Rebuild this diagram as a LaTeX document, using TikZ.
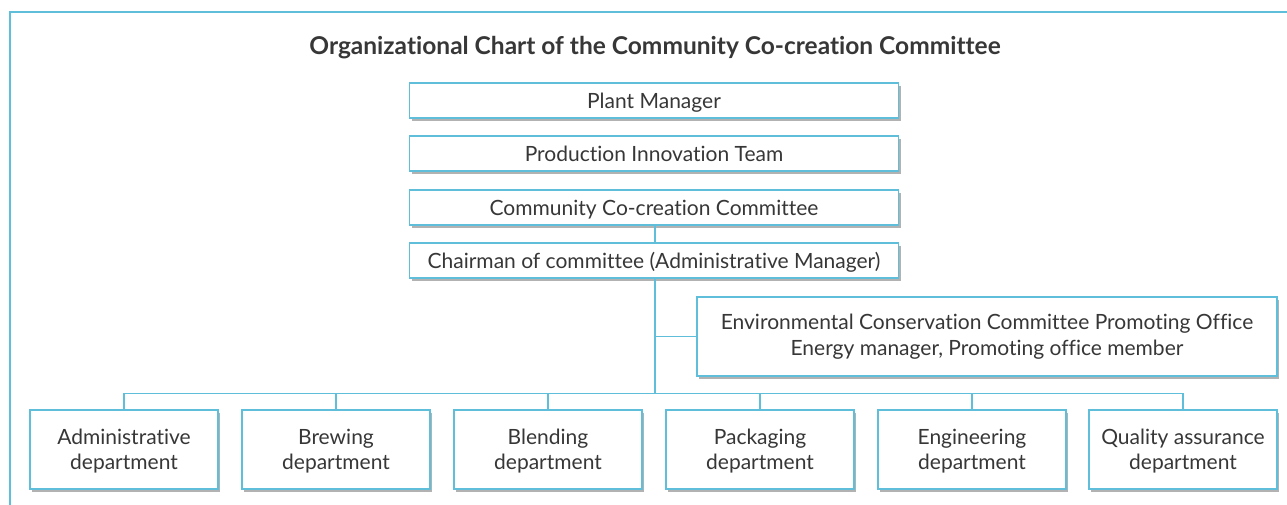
\documentclass[tikz,border=0pt]{standalone}
\usepackage{fontspec}
\setmainfont{Lato}[RawFeature={-liga}]
\usetikzlibrary{shadows}
\definecolor{frameblue}{RGB}{95,190,218}
\definecolor{txt}{RGB}{55,55,55}
\tikzset{
  orgbox/.style={draw=frameblue, line width=1.3pt, fill=white, inner sep=0pt,
    text=txt, align=center, font=\fontsize{21}{25.5}\selectfont,
    drop shadow={shadow xshift=2pt, shadow yshift=-2.5pt, fill=black!55, opacity=0.55}},
  topbox/.style={orgbox, minimum width=489pt, minimum height=35pt, text height=19pt, text depth=4pt},
  deptbox/.style={orgbox, minimum width=188pt, minimum height=79pt, text height=45.2pt, text depth=4.4pt},
  link/.style={draw=frameblue, line width=1.3pt}
}
\begin{document}
\begin{tikzpicture}[x=1pt,y=-1pt]
\useasboundingbox (0,0) rectangle (1287,504);
\fill[white] (0,0) rectangle (1287,504);
\draw[frameblue, line width=2pt] (1300,12) -- (10,12) -- (10,520);
\node[text=txt, font=\fontsize{24.5}{28}\selectfont\bfseries] (title) at (655,48) {Organizational Chart of the Community Co-creation Committee};
\node[topbox] (pm) at (654,100.5) {Plant Manager};
\node[topbox] (pit) at (654,153.5) {Production Innovation Team};
\node[topbox] (ccc) at (654,207.5) {Community Co-creation Committee};
\node[topbox] (chair) at (654,260.5) {Chairman of committee (Administrative Manager)};
\node[orgbox, minimum width=580pt, minimum height=79pt] (env) at (987,336.5) {Environmental Conservation Committee Promoting Office\\Energy manager, Promoting office member};
\node[deptbox] (d1) at (124,449.5) {Administrative\\department};
\node[deptbox] (d2) at (336,449.5) {Brewing\\department};
\node[deptbox] (d3) at (548,449.5) {Blending\\department};
\node[deptbox] (d4) at (760,449.5) {Packaging\\department};
\node[deptbox] (d5) at (972,449.5) {Engineering\\department};
\node[deptbox] (d6) at (1183,449.5) {Quality assurance\\department};
\coordinate (bus) at (655,393.5);
\draw[link] (ccc.south -| bus) -- (chair.north -| bus);
\draw[link] (chair.south -| bus) -- (bus);
\draw[link] (env.west -| bus) -- (env.west);
\draw[link] (d1.north) -- (d1.north |- bus) -- (d6.north |- bus) -- (d6.north);
\foreach \d in {d2,d3,d4,d5} \draw[link] (\d.north) -- (\d.north |- bus);
\end{tikzpicture}
\end{document}
